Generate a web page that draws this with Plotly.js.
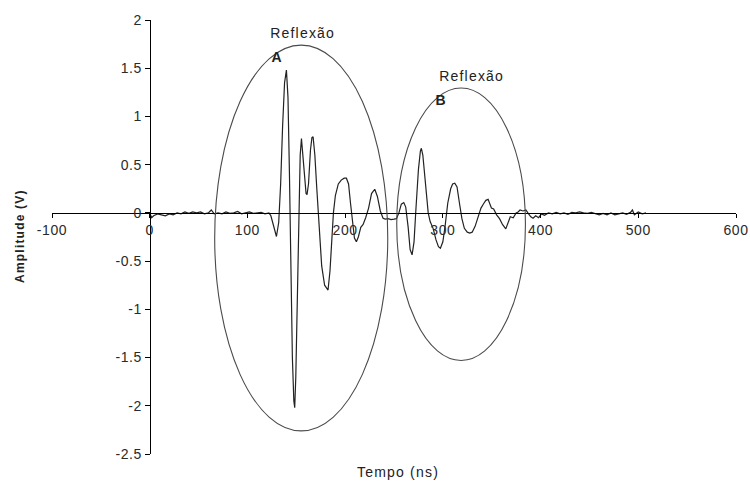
<!DOCTYPE html>
<html>
<head>
<meta charset="utf-8">
<script src="https://cdn.plot.ly/plotly-3.0.1.min.js"></script>
<style>
html,body{margin:0;padding:0;background:#fff;}
#chart{width:750px;height:486px;}
#chart text.annotation-text{letter-spacing:1.2px !important;}
#chart .xtick text, #chart .ytick text{letter-spacing:0.6px !important;}
</style>
</head>
<body>
<div id="chart"></div>
<script>
// Time (ns)
const tempo = [
  0, 2, 4, 8, 12, 16, 20, 24, 28, 32, 36, 40, 44, 48, 52, 56, 60, 63, 66, 70,
  74, 78, 82, 86, 90, 94, 98, 102, 106, 110, 114, 118, 122,
  124, 127, 129.7, 132, 134, 136, 138, 139.9, 141.5, 143, 144.5, 146, 147.5, 148.4, 149.5, 151, 152.5,
  154, 155.3, 156.7, 158.5, 160, 161, 162.5, 164.5, 166, 167.2, 169, 171, 173.5, 176, 179, 182.5,
  184.5, 186, 188, 190, 193, 196, 199, 201.3, 203.5, 205.5, 207.5, 209.5, 211.5, 213.5, 216, 218.4,
  221, 224, 227, 230.3, 233, 236, 238.8, 241, 244, 247, 250, 252.5, 255, 257.5, 260, 262,
  264.5, 266.5, 268.5, 270.5, 272.5, 275, 277, 278, 279.5, 281.5, 283.5, 285, 287, 288.3, 290, 293,
  295.5, 297.5, 300, 302.5, 305, 308, 310, 312.2, 314.5, 317, 319.5, 322, 325, 327.5, 330, 333,
  336, 339, 342, 344, 346.3, 348, 349.7, 352, 355, 358, 361, 364.4, 367, 369, 372, 375,
  377, 379, 382, 385, 387, 390, 392.3, 395, 398, 401, 404, 408, 412, 416, 420, 424,
  428, 432, 436, 440, 444, 448, 452, 456, 460, 464, 468, 472, 476, 480, 484, 488,
  492, 494, 496, 500, 504, 508
];
// Amplitude (V)
const amplitude = [
  0.0, -0.05, -0.03, -0.01, -0.02, -0.03, -0.01, -0.02, 0.0, -0.01, 0.01, -0.005, 0.01, 0.0, 0.01, -0.01, 0.0, 0.03, -0.01, 0.0,
  -0.01, 0.01, -0.005, 0.0, 0.015, -0.01, 0.0, 0.01, -0.005, 0.0, 0.005, -0.01, 0.0,
  -0.03, -0.15, -0.245, -0.1, 0.3, 0.9, 1.35, 1.48, 1.2, 0.4, -0.6, -1.5, -1.95, -2.02, -1.7, -0.8, 0.0,
  0.6, 0.77, 0.6, 0.3, 0.2, 0.19, 0.3, 0.65, 0.78, 0.79, 0.6, 0.25, -0.2, -0.55, -0.75, -0.8,
  -0.6, -0.3, 0.0, 0.18, 0.3, 0.34, 0.36, 0.36, 0.3, 0.1, -0.12, -0.26, -0.3, -0.25, -0.15, -0.12,
  -0.05, 0.05, 0.2, 0.245, 0.17, 0.02, -0.055, -0.065, -0.06, -0.07, -0.065, -0.06, 0.0, 0.09, 0.107, 0.06,
  -0.15, -0.38, -0.435, -0.3, 0.05, 0.45, 0.64, 0.67, 0.6, 0.35, 0.1, 0.0, -0.09, -0.124, -0.16, -0.28,
  -0.35, -0.366, -0.3, -0.12, 0.1, 0.25, 0.3, 0.307, 0.27, 0.1, -0.06, -0.16, -0.2, -0.21, -0.2, -0.14,
  -0.05, 0.05, 0.1, 0.13, 0.14, 0.1, 0.05, 0.04, -0.02, -0.06, -0.12, -0.166, -0.1, -0.04, -0.05, 0.0,
  0.01, 0.03, 0.02, 0.03, 0.0, -0.04, -0.055, -0.03, -0.05, -0.01, -0.025, 0.0, -0.01, 0.005, -0.01, 0.0,
  -0.015, 0.005, 0.0, 0.01, 0.0, -0.005, 0.005, -0.01, -0.02, -0.005, -0.02, 0.0, -0.02, -0.01, 0.0, -0.015,
  0.005, 0.03, -0.02, 0.01, -0.01, 0.0
];
const xTickVals = [-100, 0, 100, 200, 300, 400, 500, 600];
const xTickText = ["-100", "0", "100", "200", "300", "400", "500", "600"];
const yTickVals = [-2.5, -2, -1.5, -1, -0.5, 0, 0.5, 1, 1.5, 2];
const yTickText = ["-2.5", "-2", "-1.5", "-1", "-0.5", "0", "0.5", "1", "1.5", "2"];
// Ellipses marking reflections [x0, x1, y0, y1]
const ellipseA = [66.5, 243.6, -2.26, 1.74];
const ellipseB = [252.8, 384.5, -1.53, 1.295];
const labels = ["Reflexão", "Reflexão"];
const letters = ["A", "B"];

const font = "Liberation Sans, Arial, sans-serif";
const trace = {
  x: tempo, y: amplitude, type: "scatter", mode: "lines",
  line: {color: "#222", width: 1.2}, hoverinfo: "skip"
};
function ell(e) {
  return {type: "circle", xref: "x", yref: "y", x0: e[0], x1: e[1], y0: e[2], y1: e[3],
          line: {color: "#4a4a4a", width: 1.1}, layer: "above"};
}
const layout = {
  width: 750, height: 486,
  margin: {l: 52, r: 14, t: 20, b: 32},
  paper_bgcolor: "#fff", plot_bgcolor: "#fff",
  showlegend: false,
  font: {family: font, size: 13, color: "#222"},
  xaxis: {
    range: [-100, 600], tickvals: xTickVals, ticktext: xTickText,
    showgrid: false, zeroline: false, showline: true, linecolor: "#000", linewidth: 1.2,
    ticks: "outside", ticklen: 4, tickcolor: "#000", anchor: "free", position: 2.5 / 4.5,
    tickfont: {family: font, size: 14, color: "#2a2a2a"}, fixedrange: true
  },
  yaxis: {
    range: [-2.5, 2], tickvals: yTickVals, ticktext: yTickText,
    showgrid: false, zeroline: false, showline: true, linecolor: "#000", linewidth: 1.2,
    ticks: "outside", ticklen: 5, tickcolor: "#000", anchor: "free", position: 100 / 700,
    tickfont: {family: font, size: 14, color: "#2a2a2a"}, fixedrange: true
  },
  shapes: [ell(ellipseA), ell(ellipseB)],
  annotations: [
    {text: labels[0], x: 156.6, y: 1.865, xref: "x", yref: "y", showarrow: false,
     font: {family: font, size: 14, color: "#222"}},
    {text: "<b>" + letters[0] + "</b>", x: 130, y: 1.62, xref: "x", yref: "y", showarrow: false,
     font: {family: font, size: 14, color: "#222"}},
    {text: labels[1], x: 329.6, y: 1.42, xref: "x", yref: "y", showarrow: false,
     font: {family: font, size: 14, color: "#222"}},
    {text: "<b>" + letters[1] + "</b>", x: 298, y: 1.17, xref: "x", yref: "y", showarrow: false,
     font: {family: font, size: 14, color: "#222"}},
    {text: "Tempo (ns)", x: 0.506, y: -0.0415, xref: "paper", yref: "paper", showarrow: false,
     xanchor: "center", yanchor: "middle", font: {family: font, size: 14, color: "#222"}},
    {text: "<b>Amplitude (V)</b>", x: -0.0468, y: 0.502, xref: "paper", yref: "paper", showarrow: false,
     textangle: -90, xanchor: "center", yanchor: "middle", font: {family: font, size: 12, color: "#222"}}
  ]
};
Plotly.newPlot("chart", [trace], layout, {displayModeBar: false, staticPlot: true});
</script>
</body>
</html>
